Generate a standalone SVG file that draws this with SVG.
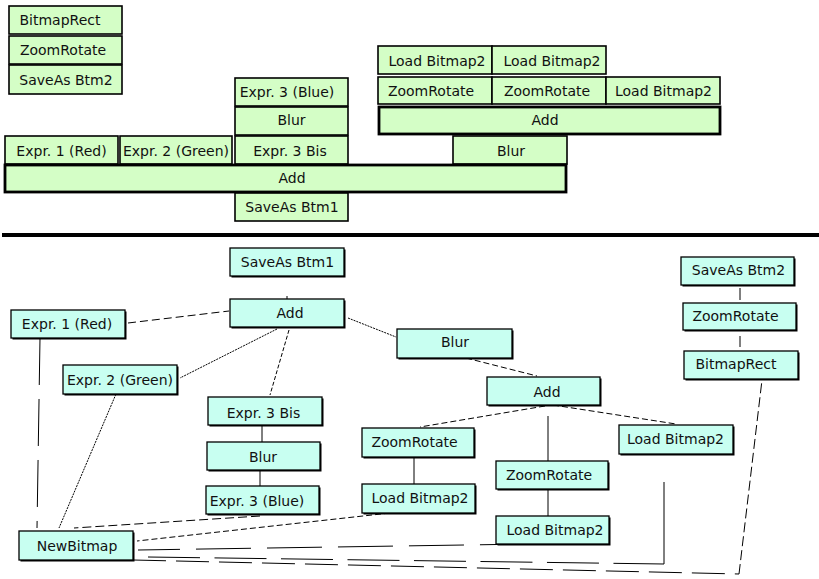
<svg xmlns="http://www.w3.org/2000/svg" width="819" height="579" viewBox="0 0 819 579">
<style>
text{font-family:"DejaVu Sans","Liberation Sans",sans-serif;font-size:14px;fill:#111;text-anchor:middle}
.t{fill:#d4fec6;stroke:#000;stroke-width:1.6}
.tt{fill:#d4fec6;stroke:#000;stroke-width:2.8}
.b{fill:#c8fff1;stroke:#000;stroke-width:1.3}
.sh{fill:#000}
.c{fill:none;stroke:#000;stroke-width:1}
</style>
<rect width="819" height="579" fill="#fff"/>
<g id="top">
<g id="t-bitmaprect"><rect class="t" x="9" y="6" width="113" height="28"/><text x="60" y="25">BitmapRect</text></g>
<g id="t-zoomrotate0"><rect class="t" x="9" y="36" width="113" height="28"/><text x="63" y="55">ZoomRotate</text></g>
<g id="t-saveas2"><rect class="t" x="9" y="65" width="113" height="29"/><text x="66" y="85">SaveAs Btm2</text></g>
<g id="t-expr3blue"><rect class="t" x="235" y="78" width="113" height="28"/><text x="287" y="97">Expr. 3 (Blue)</text></g>
<g id="t-blur1"><rect class="t" x="235" y="107" width="113" height="28"/><text x="291.5" y="125">Blur</text></g>
<g id="t-expr1"><rect class="t" x="5" y="136" width="113" height="28"/><text x="61.5" y="156">Expr. 1 (Red)</text></g>
<g id="t-expr2"><rect class="t" x="120" y="136" width="112" height="28"/><text x="176" y="156">Expr. 2 (Green)</text></g>
<g id="t-expr3bis"><rect class="t" x="235" y="136" width="113" height="28"/><text x="290" y="156">Expr. 3 Bis</text></g>
<g id="t-lb1"><rect class="t" x="378" y="46" width="114" height="28"/><text x="437" y="66">Load Bitmap2</text></g>
<g id="t-lb2"><rect class="t" x="492" y="46" width="114" height="28"/><text x="552" y="66">Load Bitmap2</text></g>
<g id="t-zr1"><rect class="t" x="378" y="77" width="114" height="27"/><text x="431" y="96">ZoomRotate</text></g>
<g id="t-zr2"><rect class="t" x="492" y="77" width="114" height="27"/><text x="547" y="96">ZoomRotate</text></g>
<g id="t-lb3"><rect class="t" x="606" y="77" width="114" height="27"/><text x="663.5" y="96">Load Bitmap2</text></g>
<g id="t-add2"><rect class="tt" x="379" y="107" width="341" height="27"/><text x="545" y="125">Add</text></g>
<g id="t-blur2"><rect class="t" x="453" y="136" width="114" height="28"/><text x="511" y="156">Blur</text></g>
<g id="t-add1"><rect class="tt" x="5" y="165" width="561" height="27"/><text x="292" y="183">Add</text></g>
<g id="t-saveas1"><rect class="t" x="235" y="193" width="113" height="28"/><text x="292" y="212">SaveAs Btm1</text></g>
</g>
<rect id="separator" x="2" y="233" width="817" height="4" fill="#000"/>
<g id="connectors">
<path class="c" d="M287,299 L287,276" stroke-dasharray="3 30"/>
<path class="c" d="M128,323 L229,311" stroke-dasharray="8 4"/>
<path class="c" d="M277,329 L180,378" stroke-dasharray="2 1"/>
<path class="c" d="M289,330 L270,395" stroke-dasharray="4 2"/>
<path class="c" d="M348,318 L396,337" stroke-dasharray="2 1"/>
<path class="c" d="M466,358 L537,376" stroke-dasharray="6 3"/>
<path class="c" d="M545,406 L420,427" stroke-dasharray="6 3"/>
<path class="c" d="M548,416 L548,461"/>
<path class="c" d="M553,405 L676,424" stroke-dasharray="6 3"/>
<path class="c" d="M414,457 L414,484"/>
<path class="c" d="M548,489 L548,516"/>
<path class="c" d="M262,425 L262,442"/>
<path class="c" d="M260,470 L260,486"/>
<path class="c" d="M740,288 L740,303" stroke-dasharray="12 4"/>
<path class="c" d="M740,336 L740,351" stroke-dasharray="11 4"/>
<path class="c" d="M40,338 L37,528" stroke-dasharray="47 14"/>
<path class="c" d="M116,394 L59,528" stroke-dasharray="2 1"/>
<path class="c" d="M260,516 L74,528" stroke-dasharray="9 4"/>
<path class="c" d="M390,513 L137,541" stroke-dasharray="6 3"/>
<path class="c" d="M138,550 L530,544" stroke-dasharray="55 16" stroke-dashoffset="13"/>
<path class="c" d="M148,557 L664,564" stroke-dasharray="52 14.5"/>
<path class="c" d="M664,564 L664,482"/>
<path class="c" d="M133,560 L739,574" stroke-dasharray="33 10"/>
<path class="c" d="M739,574 L762,380" stroke-dasharray="10 4"/>
</g>
<g id="bottom">
<g id="b-saveas1"><rect class="sh" x="231.5" y="249.5" width="114" height="28"/><rect class="b" x="230" y="248" width="114" height="28"/><text x="287.5" y="267">SaveAs Btm1</text></g>
<g id="b-add1"><rect class="sh" x="231.5" y="300.5" width="114" height="28"/><rect class="b" x="230" y="299" width="114" height="28"/><text x="290" y="318">Add</text></g>
<g id="b-expr1"><rect class="sh" x="12.5" y="311.5" width="114" height="28"/><rect class="b" x="11" y="310" width="114" height="28"/><text x="67" y="329">Expr. 1 (Red)</text></g>
<g id="b-expr2"><rect class="sh" x="64.5" y="366.5" width="114" height="29"/><rect class="b" x="63" y="365" width="114" height="29"/><text x="120" y="385">Expr. 2 (Green)</text></g>
<g id="b-expr3bis"><rect class="sh" x="209.5" y="398.5" width="114" height="28"/><rect class="b" x="208" y="397" width="114" height="28"/><text x="263.5" y="418">Expr. 3 Bis</text></g>
<g id="b-blur1"><rect class="sh" x="208.5" y="443.5" width="113" height="28"/><rect class="b" x="207" y="442" width="113" height="28"/><text x="263" y="462">Blur</text></g>
<g id="b-expr3blue"><rect class="sh" x="207.5" y="487.5" width="113" height="28"/><rect class="b" x="206" y="486" width="113" height="28"/><text x="257" y="506">Expr. 3 (Blue)</text></g>
<g id="b-newbitmap"><rect class="sh" x="20.5" y="532.5" width="114" height="29"/><rect class="b" x="19" y="531" width="114" height="29"/><text x="77" y="551">NewBitmap</text></g>
<g id="b-zr-left"><rect class="sh" x="363.5" y="429.5" width="112" height="29"/><rect class="b" x="362" y="428" width="112" height="29"/><text x="414.5" y="447">ZoomRotate</text></g>
<g id="b-lb-left"><rect class="sh" x="363.5" y="485.5" width="113" height="29"/><rect class="b" x="362" y="484" width="113" height="29"/><text x="420" y="503">Load Bitmap2</text></g>
<g id="b-zr-mid"><rect class="sh" x="497.5" y="462.5" width="112" height="28"/><rect class="b" x="496" y="461" width="112" height="28"/><text x="549" y="480">ZoomRotate</text></g>
<g id="b-lb-mid"><rect class="sh" x="497.5" y="517.5" width="113" height="28"/><rect class="b" x="496" y="516" width="113" height="28"/><text x="555" y="535">Load Bitmap2</text></g>
<g id="b-lb-right"><rect class="sh" x="620.5" y="426.5" width="114" height="29"/><rect class="b" x="619" y="425" width="114" height="29"/><text x="675.5" y="444">Load Bitmap2</text></g>
<g id="b-blur2"><rect class="sh" x="398.5" y="330.5" width="115" height="29"/><rect class="b" x="397" y="329" width="115" height="29"/><text x="455" y="347">Blur</text></g>
<g id="b-add2"><rect class="sh" x="488.5" y="378.5" width="113" height="28"/><rect class="b" x="487" y="377" width="113" height="28"/><text x="547" y="397">Add</text></g>
<g id="b-saveas2"><rect class="sh" x="682.5" y="258.5" width="113" height="28"/><rect class="b" x="681" y="257" width="113" height="28"/><text x="738.5" y="275">SaveAs Btm2</text></g>
<g id="b-zr-right"><rect class="sh" x="684.5" y="304.5" width="113" height="27"/><rect class="b" x="683" y="303" width="113" height="27"/><text x="735.5" y="321">ZoomRotate</text></g>
<g id="b-bitmaprect"><rect class="sh" x="685.5" y="352.5" width="114" height="28"/><rect class="b" x="684" y="351" width="114" height="28"/><text x="736" y="369">BitmapRect</text></g>
</g>
</svg>
